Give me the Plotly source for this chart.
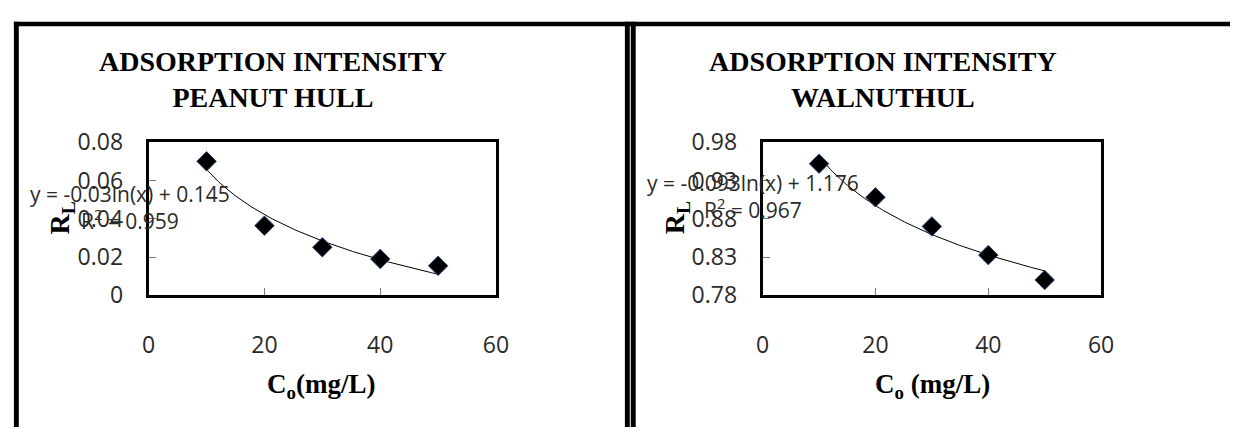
import numpy as np
import plotly.graph_objects as go

# Initial concentration C0 (mg/L)
c0 = [10, 20, 30, 40, 50]

# Separation factor RL for each adsorbent
rl_peanut = [0.070, 0.0364, 0.0251, 0.0190, 0.0154]
rl_walnut = [0.952, 0.908, 0.870, 0.8325, 0.800]

# Trendline labels as reported
eq_peanut = "y = -0.03ln(x) + 0.145<br>R<sup>2</sup> = 0.959"
eq_walnut = "y = -0.093ln(x) + 1.176<br>R<sup>2</sup> = 0.967"

titles = ["ADSORPTION INTENSITY<br>PEANUT HULL", "ADSORPTION INTENSITY<br>WALNUTHUL"]
xtitles = ["C<sub>o</sub>(mg/L)", "C<sub>o</sub> (mg/L)"]

x_ticks = [0, 20, 40, 60]
y_ticks_peanut = [0, 0.02, 0.04, 0.06, 0.08]
y_ticks_walnut = [0.78, 0.83, 0.88, 0.93, 0.98]

W, H = 1243, 442


def px(x):
    return x / W


def py(y):
    return 1 - y / H


def log_fit(x, y):
    slope, intercept = np.polyfit(np.log(x), y, 1)
    xs = np.linspace(min(x), max(x), 120)
    return xs, slope * np.log(xs) + intercept


fig = go.Figure()

series = [(rl_peanut, "x", "y"), (rl_walnut, "x2", "y2")]
for vals, xa, ya in series:
    xs, ys = log_fit(c0, vals)
    fig.add_trace(go.Scatter(x=xs, y=ys, mode="lines", xaxis=xa, yaxis=ya,
                             line=dict(color="black", width=1), showlegend=False,
                             hoverinfo="skip"))
    fig.add_trace(go.Scatter(x=c0, y=vals, mode="markers", xaxis=xa, yaxis=ya,
                             marker=dict(symbol="diamond", size=15, color="black",
                                         line=dict(color="#2a4a7a", width=1)),
                             showlegend=False))

tick_font = dict(family="Open Sans", size=23, color="#2a2a2a")
ydom = [py(300), py(135)]

common_axis = dict(showgrid=False, zeroline=False, showline=True, mirror=True,
                   linecolor="black", linewidth=3, ticks="inside", ticklen=7,
                   tickcolor="#777", tickwidth=1, tickfont=tick_font)

fig.update_layout(
    width=W, height=H,
    margin=dict(l=0, r=0, t=0, b=0),
    paper_bgcolor="white", plot_bgcolor="white",
    xaxis=dict(domain=[px(144), px(497)], range=[0, 60], tickvals=x_ticks,
               anchor="y", ticklabelstandoff=27, **common_axis),
    yaxis=dict(domain=ydom, range=[0, 0.08], tickvals=y_ticks_peanut,
               ticktext=["0", "0.02", "0.04", "0.06", "0.08"],
               anchor="x", ticklabelstandoff=18, **common_axis),
    xaxis2=dict(domain=[px(768), px(1112)], range=[0, 60], tickvals=x_ticks,
                anchor="y2", ticklabelstandoff=27, **common_axis),
    yaxis2=dict(domain=ydom, range=[0.78, 0.98], tickvals=y_ticks_walnut,
                ticktext=["0.78", "0.83", "0.88", "0.93", "0.98"],
                anchor="x2", ticklabelstandoff=18, **common_axis),
)

serif_bold = dict(family="Liberation Serif", size=28, color="black")
ann = []
for title, cx in zip(titles, [270, 890]):
    ann.append(dict(text="<b>" + title + "</b>", x=px(cx), y=py(67), xref="paper",
                    yref="paper", showarrow=False, xanchor="center", yanchor="middle",
                    font=serif_bold))
for xt, cx in zip(xtitles, [319, 941]):
    ann.append(dict(text="<b>" + xt + "</b>", x=px(cx), y=py(398), xref="paper",
                    yref="paper", showarrow=False, xanchor="center", yanchor="middle",
                    font=dict(family="Liberation Serif", size=27, color="black")))
for cx in [55, 680]:
    ann.append(dict(text="<b>R<sub>L</sub></b>", x=px(cx), y=py(217), xref="paper",
                    yref="paper", showarrow=False, textangle=-90, xanchor="center",
                    yanchor="middle",
                    font=dict(family="Liberation Serif", size=28, color="black")))
eq_font = dict(family="Open Sans", size=21, color="#2a2a2a")
ann.append(dict(text=eq_peanut, x=px(125), y=py(205), xref="paper", yref="paper",
                showarrow=False, align="center", xanchor="center", yanchor="middle",
                font=eq_font))
ann.append(dict(text=eq_walnut, x=px(758), y=py(193), xref="paper", yref="paper",
                showarrow=False, align="center", xanchor="center", yanchor="middle",
                font=eq_font))
fig.update_layout(annotations=ann)

# Chart frames around each panel
frames = [
    (7, 5, 12, H),       # left edge of first panel
    (7, 5, W, 10),       # top edge across both panels
    (628, 5, 633, H),    # right edge of first panel
    (634, 5, 639, H),    # left edge of second panel
]
fig.update_layout(shapes=[
    dict(type="rect", xref="paper", yref="paper", x0=px(a), x1=px(c), y0=py(d), y1=py(b),
         fillcolor="black", line=dict(width=0), layer="above")
    for a, b, c, d in frames
])

fig.write_html("out.html")
